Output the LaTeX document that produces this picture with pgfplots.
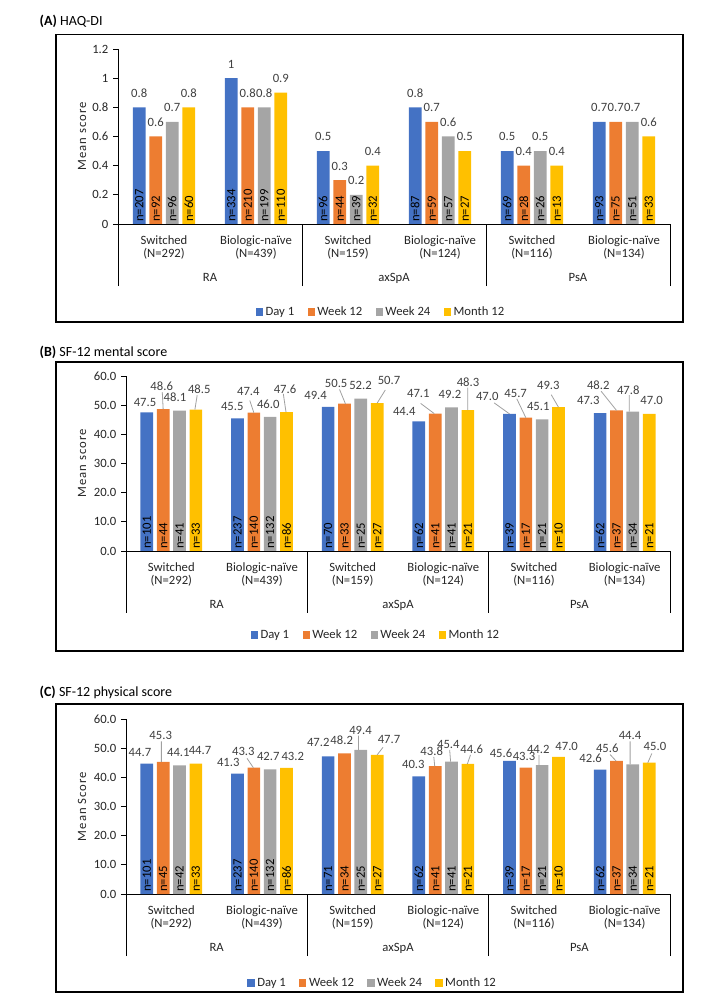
\documentclass[border=0pt]{standalone}
\usepackage{fontspec}
\setmainfont{Carlito}
\usepackage{graphicx}
\usepackage{pgfplots}
\usepackage{pgfplotstable}
\pgfplotsset{compat=1.18}

\definecolor{c1}{HTML}{4472C4}
\definecolor{c2}{HTML}{ED7D31}
\definecolor{c3}{HTML}{A5A5A5}
\definecolor{c4}{HTML}{FFC000}
\definecolor{lbl}{HTML}{404040}
\definecolor{leadgray}{HTML}{A0A0A0}

\newcommand{\fs}{\fontsize{9.5}{10.3}\selectfont}

% (A) HAQ-DI
\pgfplotstableread{
g d1  w12 w24 m12 n1  n2  n3  n4
0 0.8 0.6 0.7 0.8 207 92  96  60
1 1   0.8 0.8 0.9 334 210 199 110
2 0.5 0.3 0.2 0.4 96  44  39  32
3 0.8 0.7 0.6 0.5 87  59  57  27
4 0.5 0.4 0.5 0.4 69  28  26  13
5 0.7 0.7 0.7 0.6 93  75  51  33
}\tA

% (B) SF-12 mental
\pgfplotstableread{
g d1   w12  w24  m12  n1  n2  n3  n4
0 47.5 48.6 48.1 48.5 101 44  41  33
1 45.5 47.4 46.0 47.6 237 140 132 86
2 49.4 50.5 52.2 50.7 70  33  25  27
3 44.4 47.1 49.2 48.3 62  41  41  21
4 47.0 45.7 45.1 49.3 39  17  21  10
5 47.3 48.2 47.8 47.0 62  37  34  21
}\tB

% (C) SF-12 physical
\pgfplotstableread{
g d1   w12  w24  m12  n1  n2  n3  n4
0 44.7 45.3 44.1 44.7 101 45  42  33
1 41.3 43.3 42.7 43.2 237 140 132 86
2 47.2 48.2 49.4 47.7 71  34  25  27
3 40.3 43.8 45.4 44.6 62  41  41  21
4 45.6 43.3 44.2 47.0 39  17  21  10
5 42.6 45.6 44.4 45.0 62  37  34  21
}\tC

% label positions (Excel moved some of them, with leader lines)
\pgfplotstableread{
x      y    t
-0.290 51.0 47.5
-0.106 56.6 48.6
0.040  52.7 48.1
0.308  55.4 48.5
0.672  49.7 45.5
0.849  54.6 47.4
1.069  50.4 46.0
1.254  55.4 47.6
1.591  53.5 49.4
1.818  57.5 50.5
2.087  56.6 52.2
2.401  58.4 50.7
2.569  48.0 44.4
2.724  54.1 47.1
3.073  53.8 49.2
3.272  58.0 48.3
3.485  52.9 47.0
3.798  54.1 45.7
4.047  49.5 45.1
4.158  56.6 49.3
4.599  51.5 47.3
4.709  56.9 48.2
5.040  55.2 47.8
5.298  51.5 47.0
}\lB

\pgfplotstableread{
x     y
-0.09 48.6
-0.10 54.5
nan   nan
0.26  48.5
0.285 53.4
nan   nan
0.91  47.4
0.865 51.6
nan   nan
1.265 47.6
1.235 53.9
nan   nan
1.92  50.5
1.855 55.4
nan   nan
2.27  50.7
2.36  55.2
nan   nan
2.90  47.1
2.75  50.6
nan   nan
3.27  48.3
3.27  56.0
nan   nan
3.73  47.0
3.56  50.8
nan   nan
3.91  45.7
3.81  52.2
nan   nan
4.27  49.3
4.19  53.6
nan   nan
4.91  48.2
4.74  54.8
nan   nan
5.05  47.8
5.05  53.4
}\ldB

\pgfplotstableread{
x      y    t
-0.346 48.4 44.7
-0.117 54.2 45.3
0.077  48.4 44.1
0.316  49.1 44.7
0.628  45.0 41.3
0.794  48.8 43.3
1.069  47.3 42.7
1.339  47.3 43.2
1.621  51.9 47.2
1.879  52.8 48.2
2.087  56.2 49.4
2.401  53.0 47.7
2.669  44.5 40.3
2.872  49.1 43.8
3.055  51.4 45.4
3.313  49.6 44.6
3.636  48.4 45.6
3.890  47.1 43.3
4.047  49.6 44.2
4.360  50.7 47.0
4.625  46.5 42.6
4.808  49.9 45.6
5.059  54.2 44.4
5.334  50.5 45.0
}\lC

\pgfplotstableread{
x     y
-0.11 45.3
-0.11 52.3
nan   nan
0.905 43.3
0.835 46.5
nan   nan
2.065 49.4
2.065 54.3
nan   nan
2.27  47.7
2.335 50.3
nan   nan
2.905 43.8
2.895 47.0
nan   nan
3.08  45.4
3.07  49.4
nan   nan
3.265 44.6
3.30  47.7
nan   nan
4.055 44.2
4.055 47.6
nan   nan
4.905 45.6
4.84  47.8
nan   nan
5.06  44.4
5.06  52.3
nan   nan
5.255 45.0
5.30  48.2
}\ldC

\pgfplotsset{
  panel/.style={
    scale only axis, height=131.25pt, clip=false,
    anchor=south west,
    xmin=-0.5, xmax=5.5, ymin=0,
    axis x line*=bottom, axis y line*=left,
    axis line style={black, line width=0.6pt},
    tick align=outside,
    major tick length=3.75pt,
    ytick style={black, line width=0.6pt},
    major x tick style={draw=none},
    minor xtick={-0.5,1.5,3.5,5.5},
    minor tick length=46.5pt,
    minor x tick style={black, line width=0.6pt},
    xtick={0,...,5},
    xticklabels={Switched\\(N=292), Biologic-naïve\\(N=439), Switched\\(N=159),
      Biologic-naïve\\(N=124), Switched\\(N=116), Biologic-naïve\\(N=134)},
    xticklabel style={align=center, font=\fs, text=black!85, yshift=-1.25pt},
    yticklabel style={font=\fs, text=black!85},
    /pgf/number format/assume math mode=true,
    extra x ticks={0.5,2.5,4.5},
    extra x tick labels={RA,axSpA,PsA},
    extra x tick style={tick label style={yshift=-28.5pt}},
    ylabel style={anchor=center, text=black!85,
      font=\fontsize{9.5}{11}\selectfont\addfontfeatures{LetterSpace=8}},
    legend columns=4,
    legend style={draw=none, fill=none, font=\fs, text=black!85, anchor=center,
      /tikz/every even column/.append style={column sep=8pt}},
    legend image code/.code={\fill[##1] (0pt,-2.7pt) rectangle (5.4pt,2.7pt);},
  },
  bars/.style={ybar, draw=none},
  nlab/.style={ybar, draw=none, fill=none, forget plot,
    point meta=explicit symbolic,
    nodes near coords={\rotatebox{90}{n=\pgfplotspointmeta}},
    visualization depends on={y \as \rawy},
    every node near coord/.append style={shift={(axis direction cs:0,-\rawy)},
      anchor=south, inner sep=1.5pt, font=\fs, text=black}},
  vlab/.style={draw=none, mark=none, forget plot, point meta=explicit symbolic,
    nodes near coords={\pgfplotspointmeta},
    every node near coord/.append style={anchor=center, font=\fs, text=lbl, inner sep=0pt}},
  leader/.style={draw=leadgray, line width=0.6pt, forget plot, mark=none,
    unbounded coords=jump},
}

% table, value column, n column, bar shift, colour, extra options
\newcommand{\series}[6]{%
  \addplot[bars, bar shift=#4, fill=#5, #6,
    every node near coord/.append style={xshift=#4}] table[x=g, y=#2, meta=#2] {#1};
  \addplot[nlab, bar shift=#4,
    every node near coord/.append style={xshift=#4}] table[x=g, y=#2, meta=#3] {#1};
}

\begin{document}
\begin{tikzpicture}[x=0.75pt, y=0.75pt]
\useasboundingbox (0,0) rectangle (715,1008);

% ---------- (A)
\draw[line width=0.9pt] (56,686) rectangle (683,973.3);
\node[anchor=west, font=\fontsize{10.5}{12}\selectfont] at (35,987) {\textbf{(A)} HAQ-DI};
\begin{axis}[panel, at={(88.5pt,588pt)}, width=414pt, bar width=9.66pt,
  ymax=1.2, ytick={0,0.2,0.4,0.6,0.8,1,1.2},
  ylabel={Mean score}, ylabel style={at={(axis description cs:-0.0652,0.5)}},
  legend style={at={(0.477,-0.503)}}]
\pgfplotsset{avl/.style={point meta=explicit symbolic, nodes near coords={\pgfplotspointmeta},
  every node near coord/.append style={font=\fs, text=lbl, yshift=4pt}}}
\series{\tA}{d1}{n1}{-18.6pt}{c1}{avl}
\series{\tA}{w12}{n2}{-6.2pt}{c2}{avl}
\series{\tA}{w24}{n3}{6.2pt}{c3}{avl}
\series{\tA}{m12}{n4}{18.6pt}{c4}{avl}
\legend{Day 1, Week 12, Week 24, Month 12}
\end{axis}

% ---------- (B)
\draw[line width=0.9pt] (56,357) rectangle (683,646);
\node[anchor=west, font=\fontsize{10.5}{12}\selectfont] at (35,656) {\textbf{(B)} SF-12 mental score};
\begin{axis}[panel, at={(94.5pt,342.75pt)}, width=408pt, bar width=9.5pt,
  ymax=60, ytick={0,10,20,30,40,50,60},
  yticklabel style={/pgf/number format/.cd, fixed, fixed zerofill, precision=1},
  ylabel={Mean score}, ylabel style={at={(axis description cs:-0.0809,0.5)}},
  legend style={at={(0.46,-0.48)}}]
\series{\tB}{d1}{n1}{-18.4pt}{c1}{}
\series{\tB}{w12}{n2}{-6.1pt}{c2}{}
\series{\tB}{w24}{n3}{6.1pt}{c3}{}
\series{\tB}{m12}{n4}{18.4pt}{c4}{}
\addplot[leader] table[x=x, y=y] {\ldB};
\addplot[vlab] table[x=x, y=y, meta=t] {\lB};
\legend{Day 1, Week 12, Week 24, Month 12}
\end{axis}

% ---------- (C)
\draw[line width=0.9pt] (56,16) rectangle (683,304);
\node[anchor=west, font=\fontsize{10.5}{12}\selectfont] at (35,316) {\textbf{(C)} SF-12 physical score};
\begin{axis}[panel, at={(94.5pt,85.5pt)}, width=408pt, bar width=9.5pt,
  ymax=60, ytick={0,10,20,30,40,50,60},
  yticklabel style={/pgf/number format/.cd, fixed, fixed zerofill, precision=1},
  ylabel={Mean Score}, ylabel style={at={(axis description cs:-0.0809,0.5)}},
  legend style={at={(0.454,-0.509)}}]
\series{\tC}{d1}{n1}{-18.4pt}{c1}{}
\series{\tC}{w12}{n2}{-6.1pt}{c2}{}
\series{\tC}{w24}{n3}{6.1pt}{c3}{}
\series{\tC}{m12}{n4}{18.4pt}{c4}{}
\addplot[leader] table[x=x, y=y] {\ldC};
\addplot[vlab] table[x=x, y=y, meta=t] {\lC};
\legend{Day 1, Week 12, Week 24, Month 12}
\end{axis}
\end{tikzpicture}
\end{document}
